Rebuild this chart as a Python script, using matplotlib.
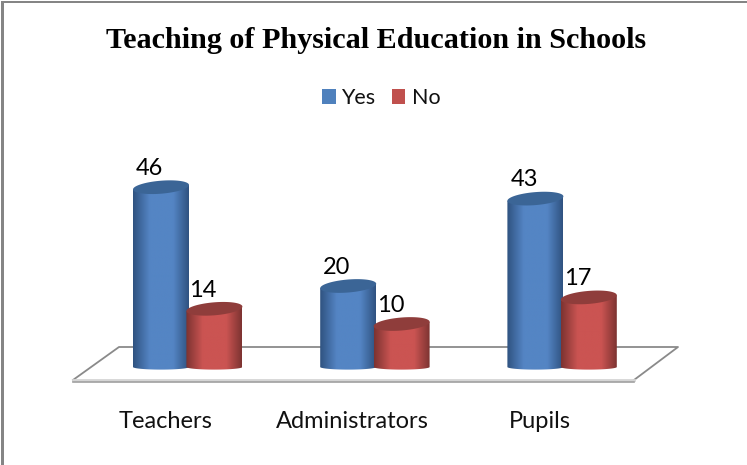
import numpy as np
import matplotlib
matplotlib.use('Agg')
import matplotlib.pyplot as plt
from matplotlib.patches import Polygon, Rectangle, PathPatch
from matplotlib.path import Path
from matplotlib.colors import LinearSegmentedColormap

categories = ['Teachers', 'Administrators', 'Pupils']
yes_values = [46, 20, 43]
no_values = [14, 10, 17]
title = 'Teaching of Physical Education in Schools'

W, H = 747, 465
fig = plt.figure(figsize=(W / 100, H / 100), dpi=100)
ax = fig.add_axes([0, 0, 1, 1])

# scale: one category = 187.2 px, one unit = 3.8 px, zero at y=362 px
x0, dx = 187.7, 187.2
y0, dy = 362.0, 3.8
ax.set_xlim(-x0 / dx, (W - x0) / dx)
ax.set_ylim(-(H - y0) / dy, y0 / dy)
ax.axis('off')
ax.set_autoscale_on(False)


def px(x, y):
    # picture pixels to data units, for the decoration
    return (x - x0) / dx, (y0 - y) / dy


# frame, only top and left are there
fig.add_artist(Rectangle((1 / W, 0), 3 / W, 1 - 1 / H, fc='#858585', ec='none', transform=fig.transFigure))
fig.add_artist(Rectangle((1 / W, 1 - 3 / H), 1 - 1 / W, 2 / H, fc='#858585', ec='none', transform=fig.transFigure))

# floor
floor = [px(119, 347), px(678, 347), px(634, 380), px(73, 380)]
ax.add_patch(Polygon(floor, closed=True, fc='white', ec='none', zorder=1))
ax.plot(*zip(floor[3], floor[0], floor[1], floor[2]), color='#8a8a8a', lw=1.3, zorder=2)
ax.plot(*zip(floor[2], floor[3]), color='#d5d5d5', lw=2, zorder=2)
ax.plot(*zip(px(634, 381.5), px(73, 381.5)), color='#a0a0a0', lw=1.2, zorder=2)

bar_w = 56 / dx
ell_h = 13 / dy
tilt = 2.2 / dy    # right side of the cap sits higher
foot = -5 / dy     # where the side edges stop
bulge = 2.6 / dy


def cylinder(cx, value, dark, mid, cap):
    cmap = LinearSegmentedColormap.from_list('c', [(0, dark), (0.3, mid), (0.5, mid), (0.72, mid), (1, dark)], N=256)
    t = np.linspace(0, np.pi, 60)
    bx = cx - bar_w / 2 * np.cos(t)
    by = foot - bulge * np.sin(t)
    tx = cx + bar_w / 2 * np.cos(t)
    ty = value + tilt * np.cos(t)
    verts = list(zip(bx, by)) + list(zip(tx, ty)) + [(bx[0], by[0])]
    clip = PathPatch(Path(verts), fc='none', ec='none', transform=ax.transData)
    ax.add_patch(clip)
    grad = np.linspace(0, 1, 256).reshape(1, -1)
    im = ax.imshow(grad, extent=[cx - bar_w / 2, cx + bar_w / 2, foot - 5, value + 5], cmap=cmap,
                   aspect='auto', zorder=3, interpolation='bilinear')
    im.set_clip_path(clip)
    t = np.linspace(0, 2 * np.pi, 80)
    ax.fill(cx + bar_w / 2 * np.cos(t), value + ell_h / 2 * np.sin(t) + tilt * np.cos(t),
            color=cap, lw=0, zorder=4)


for i, cat in enumerate(categories):
    bx = i - 26.7 / dx
    rx = i + 26.7 / dx
    cylinder(bx, yes_values[i], '#2f5280', '#5485c4', '#3b6596')
    cylinder(rx, no_values[i], '#7c3331', '#cb5452', '#8f3d3b')
    ax.text(bx - 0.06, yes_values[i] + 3.2, str(yes_values[i]), family='Lato', fontsize=17,
            ha='center', va='baseline', color='black', zorder=5)
    ax.text(rx - 0.06, no_values[i] + 3.2, str(no_values[i]), family='Lato', fontsize=17,
            ha='center', va='baseline', color='black', zorder=5)
    ax.text(i - 0.12, px(0, 428)[1], cat, family='Lato', fontsize=17, ha='center',
            va='baseline', color='#111111', zorder=5)

fig.text(376.5 / W, 1 - 48 / H, title, family='Liberation Serif', fontweight='bold', fontsize=21.7,
         ha='center', va='baseline', color='black')

# legend
fig.add_artist(Rectangle((322 / W, 1 - 104 / H), 14 / W, 15 / H, fc='#4f81bd', ec='none',
                         transform=fig.transFigure))
fig.add_artist(Rectangle((392 / W, 1 - 104 / H), 13 / W, 15 / H, fc='#c0504d', ec='none',
                         transform=fig.transFigure))
fig.text(341 / W, 1 - 104 / H, 'Yes', family='Lato', fontsize=15.5, ha='left', va='baseline', color='#111111')
fig.text(412 / W, 1 - 104 / H, 'No', family='Lato', fontsize=15.5, ha='left', va='baseline', color='#111111')

fig.savefig('out.png', dpi=100)
